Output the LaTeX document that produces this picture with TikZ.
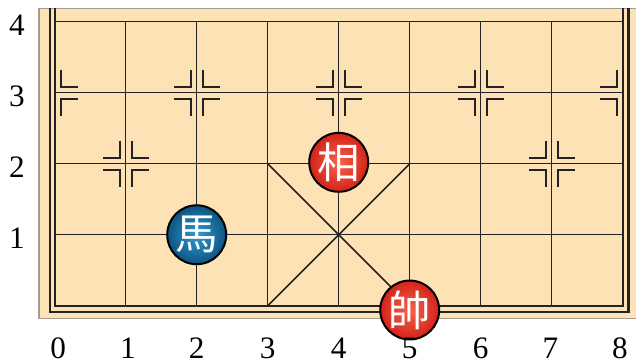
\documentclass[tikz,border=0pt]{standalone}
\usepackage{fontspec}
\setmainfont{Liberation Serif}
\newfontfamily\cjk{Noto Sans CJK TC}
\definecolor{boardbg}{RGB}{253,226,182}
\definecolor{boardedge}{RGB}{165,155,145}
\definecolor{gridc}{RGB}{35,35,35}
\definecolor{redin}{RGB}{245,100,75}
\definecolor{redout}{RGB}{212,35,25}
\definecolor{bluein}{RGB}{50,155,205}
\definecolor{blueout}{RGB}{12,85,130}
\newcommand\rmarks[2]{%
  \draw[markline] (#1,#2) ++(0.085,0.324) -- ++(0,-0.239) -- ++(0.239,0);
  \draw[markline] (#1,#2) ++(0.085,-0.324) -- ++(0,0.239) -- ++(0.239,0);}
\newcommand\lmarks[2]{%
  \draw[markline] (#1,#2) ++(-0.085,0.324) -- ++(0,-0.239) -- ++(-0.239,0);
  \draw[markline] (#1,#2) ++(-0.085,-0.324) -- ++(0,0.239) -- ++(-0.239,0);}
\begin{document}
\begin{tikzpicture}[x=1cm,y=1cm,
  gridline/.style={gridc, line width=0.6pt},
  frameline/.style={gridc, line width=0.9pt},
  markline/.style={gridc, line width=0.85pt},
  piece/.style={circle, draw=black, line width=0.8pt, minimum size=0.83cm, inner sep=0pt, text=white, font=\cjk\fontsize{17}{17}\selectfont},
  redpiece/.style={piece, inner color=redin, outer color=redout},
  bluepiece/.style={piece, inner color=bluein, outer color=blueout},
  lbl/.style={font=\fontsize{12.5}{12.5}\selectfont, text=black}
]
\useasboundingbox (-0.770,-0.793) rectangle (8.187,4.306);
% board
\fill[boardbg] (-0.221,-0.177) rectangle (8.3,4.189);
\draw[boardedge, line width=0.5pt] (8.3,4.189) -- (-0.221,4.189) -- (-0.221,-0.177) -- (8.3,-0.177);
% grid
\foreach \i in {1,...,7} \draw[gridline] (\i,0) -- (\i,4);
\foreach \j in {1,...,4} \draw[gridline] (0,\j) -- (8,\j);
\draw[frameline] (0,4.189) -- (0,0) -- (8,0) -- (8,4.189);
\draw[frameline] (-0.07,4.189) -- (-0.07,-0.085) -- (8.08,-0.085) -- (8.08,4.189);
% palace
\draw[gridline] (3,0) -- (5,2);
\draw[gridline] (3,2) -- (5,0);
% position marks
\rmarks{0}{3}
\lmarks{2}{3}\rmarks{2}{3}
\lmarks{4}{3}\rmarks{4}{3}
\lmarks{6}{3}\rmarks{6}{3}
\lmarks{8}{3}
\lmarks{1}{2}\rmarks{1}{2}
\lmarks{7}{2}\rmarks{7}{2}
% pieces
\node[bluepiece] (ma) at (2,1) {馬};
\node[redpiece] (xiang) at (4,2.02) {相};
\node[redpiece] (shuai) at (5,-0.06) {帥};
% labels
\foreach \i/\dx in {0/0.05,1/0.03,2/0,3/0,4/0,5/0,6/0,7/-0.02,8/-0.04}
  \node[lbl] (c\i) at (\i+\dx,-0.6) {\i};
\foreach \j in {1,...,4} \node[lbl] (r\j) at (-0.53,\j-0.05) {\j};
\end{tikzpicture}
\end{document}
